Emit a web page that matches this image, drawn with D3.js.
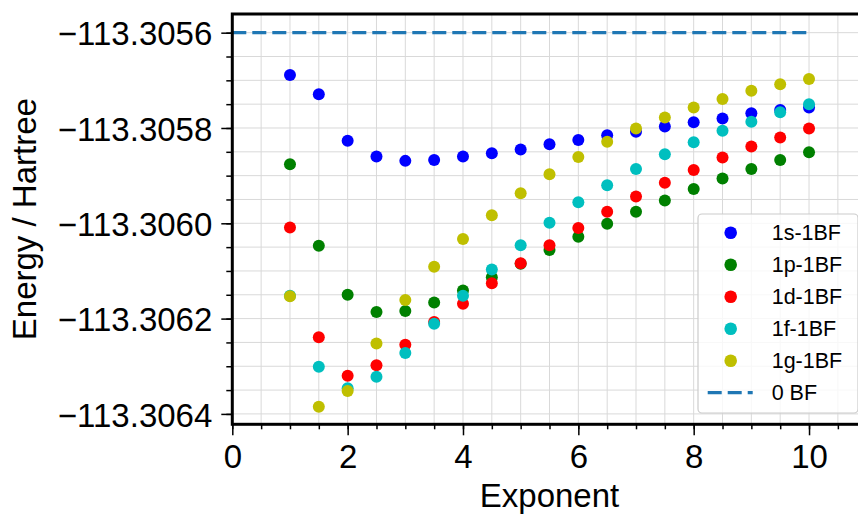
<!DOCTYPE html>
<html>
<head>
<meta charset="utf-8">
<script src="https://cdn.jsdelivr.net/npm/d3@7"></script>
<style>
  html, body { margin: 0; padding: 0; background: #fff; overflow: hidden; }
  svg { display: block; }
  text { font-family: "Liberation Sans", Arial, Helvetica, sans-serif; fill: #000; }
</style>
</head>
<body>
<svg id="chart" width="858" height="514"></svg>
<script>
// Exponent values shared by every series
const exponents = [1, 1.5, 2, 2.5, 3, 3.5, 4, 4.5, 5, 5.5, 6, 6.5, 7, 7.5, 8, 8.5, 9, 9.5, 10];

// Total energies (Hartree) for one extra basis function of each angular type
const energy1s = [-113.305689, -113.305729, -113.305827, -113.305860, -113.305869, -113.305867, -113.305860,
  -113.305853, -113.305845, -113.305834, -113.305825, -113.305815, -113.305808, -113.305797, -113.305788,
  -113.305780, -113.305769, -113.305762, -113.305757];
const energy1p = [-113.305876, -113.306047, -113.306150, -113.306186, -113.306184, -113.306166, -113.306141,
  -113.306113, -113.306085, -113.306056, -113.306028, -113.306001, -113.305976, -113.305952, -113.305928,
  -113.305906, -113.305886, -113.305867, -113.305851];
const energy1d = [-113.306009, -113.306239, -113.306320, -113.306298, -113.306255, -113.306207, -113.306169,
  -113.306126, -113.306084, -113.306046, -113.306010, -113.305976, -113.305944, -113.305915, -113.305888,
  -113.305862, -113.305839, -113.305820, -113.305801];
const energy1f = [-113.306152, -113.306301, -113.306346, -113.306322, -113.306272, -113.306211, -113.306152,
  -113.306097, -113.306046, -113.305999, -113.305956, -113.305920, -113.305886, -113.305855, -113.305830,
  -113.305806, -113.305787, -113.305767, -113.305750];
const energy1g = [-113.306153, -113.306385, -113.306352, -113.306252, -113.306161, -113.306091, -113.306033,
  -113.305983, -113.305937, -113.305897, -113.305861, -113.305829, -113.305801, -113.305778, -113.305757,
  -113.305739, -113.305722, -113.305708, -113.305697];

// Reference energy with no extra basis function
const energyNoBF = -113.3056;
const noBFRange = [0, 10];

const seriesNames = ["1s-1BF", "1p-1BF", "1d-1BF", "1f-1BF", "1g-1BF"];
const seriesColors = ["#0000ff", "#008000", "#ff0000", "#00bfbf", "#bfbf00"];
const seriesValues = [energy1s, energy1p, energy1d, energy1f, energy1g];
const refName = "0 BF";
const refColor = "#1f77b4";

const xTicks = [0, 2, 4, 6, 8, 10];
const yTicks = [-113.3056, -113.3058, -113.3060, -113.3062, -113.3064];
const xLabel = "Exponent";
const yLabel = "Energy / Hartree";

// Plot geometry
const plot = { left: 232.3, right: 866.7, top: 14, bottom: 424.3 };
const xDomain = [0, 11];
const yDomain = [-113.3064218, -113.3055608];

const svg = d3.select("#chart");
const x = d3.scaleLinear().domain(xDomain).range([plot.left, plot.right]);
const y = d3.scaleLinear().domain(yDomain).range([plot.bottom, plot.top]);

// Minor tick positions: every 0.5 on x, every 0.00005 on y
const xMinor = d3.range(0, 23).map(i => i * 0.5).filter(v => v <= xDomain[1]);
const yMinor = d3.range(0, 17).map(i => -113.3064 + i * 0.00005);

// Grid (drawn at both major and minor positions)
const grid = svg.append("g").attr("stroke", "#d9d9d9").attr("stroke-width", 1);
grid.selectAll("line.gx").data(xMinor).join("line")
  .attr("x1", d => x(d)).attr("x2", d => x(d))
  .attr("y1", plot.top).attr("y2", plot.bottom);
grid.selectAll("line.gy").data(yMinor).join("line")
  .attr("x1", plot.left).attr("x2", plot.right)
  .attr("y1", d => y(d)).attr("y2", d => y(d));

// Reference line
svg.append("line")
  .attr("x1", x(noBFRange[0])).attr("x2", x(noBFRange[1]))
  .attr("y1", y(energyNoBF)).attr("y2", y(energyNoBF))
  .attr("stroke", refColor).attr("stroke-width", 3.2)
  .attr("stroke-dasharray", "14,6");

// Scatter series
seriesValues.forEach((vals, si) => {
  svg.append("g").selectAll("circle")
    .data(vals.map((v, i) => [exponents[i], v]))
    .join("circle")
    .attr("cx", d => x(d[0]))
    .attr("cy", d => y(d[1]))
    .attr("r", 6)
    .attr("fill", seriesColors[si]);
});

// Axes with D3 axis generators
const xAxisMinor = d3.axisBottom(x).tickValues(xMinor).tickSize(5).tickFormat("");
const xAxisMajor = d3.axisBottom(x).tickValues(xTicks).tickSize(11).tickPadding(9)
  .tickFormat(d3.format("d"));
const yAxisMinor = d3.axisLeft(y).tickValues(yMinor).tickSize(6).tickFormat("");
const yAxisMajor = d3.axisLeft(y).tickValues(yTicks).tickSize(11).tickPadding(9)
  .tickFormat(d => "\u2212" + Math.abs(d).toFixed(4));

function styleAxis(g) {
  g.select(".domain").remove();
  g.selectAll(".tick line").attr("stroke", "#000").attr("stroke-width", 1.5);
  g.selectAll(".tick text").attr("font-size", 33).attr("fill", "#000")
    .style("font-family", "'Liberation Sans', Arial, sans-serif");
}

svg.append("g").attr("transform", `translate(0,${plot.bottom})`).call(xAxisMinor).call(styleAxis);
svg.append("g").attr("transform", `translate(0,${plot.bottom})`).call(xAxisMajor).call(styleAxis)
  .selectAll(".tick text").attr("dy", "0.71em");
svg.append("g").attr("transform", `translate(${plot.left},0)`).call(yAxisMinor).call(styleAxis);
svg.append("g").attr("transform", `translate(${plot.left},0)`).call(yAxisMajor).call(styleAxis)
  .selectAll(".tick text").attr("dy", "0.37em");

// Spines
const spines = svg.append("g").attr("stroke", "#000").attr("stroke-width", 3).attr("fill", "none");
spines.append("rect")
  .attr("x", plot.left).attr("y", plot.top)
  .attr("width", plot.right - plot.left).attr("height", plot.bottom - plot.top);

// Axis labels
svg.append("text")
  .attr("x", (plot.left + plot.right) / 2).attr("y", 507)
  .attr("text-anchor", "middle").attr("font-size", 33)
  .text(xLabel);
svg.append("text")
  .attr("transform", `translate(36,${(plot.top + plot.bottom) / 2}) rotate(-90)`)
  .attr("text-anchor", "middle").attr("font-size", 33)
  .text(yLabel);

// Legend
const legend = { x: 698, y: 214, w: 160, h: 199, rowY: 232.7, rowGap: 32, markX: 730.7, textX: 771.7 };
const lg = svg.append("g");
lg.append("rect")
  .attr("x", legend.x).attr("y", legend.y)
  .attr("width", legend.w).attr("height", legend.h)
  .attr("rx", 4).attr("ry", 4)
  .attr("fill", "#fff").attr("fill-opacity", 0.8)
  .attr("stroke", "#cccccc").attr("stroke-width", 1.2);

const legendItems = seriesNames.map((n, i) => ({ name: n, color: seriesColors[i], type: "dot" }))
  .concat([{ name: refName, color: refColor, type: "dash" }]);

legendItems.forEach((item, i) => {
  const cy = legend.rowY + i * legend.rowGap;
  if (item.type === "dot") {
    lg.append("circle").attr("cx", legend.markX).attr("cy", cy).attr("r", 6.3).attr("fill", item.color);
  } else {
    lg.append("line")
      .attr("x1", legend.markX - 23).attr("x2", legend.markX + 22)
      .attr("y1", cy).attr("y2", cy)
      .attr("stroke", item.color).attr("stroke-width", 3.2)
      .attr("stroke-dasharray", "14,6");
  }
  lg.append("text")
    .attr("x", legend.textX).attr("y", cy).attr("dy", "0.36em")
    .attr("font-size", 21.5)
    .text(item.name);
});
</script>
</body>
</html>
